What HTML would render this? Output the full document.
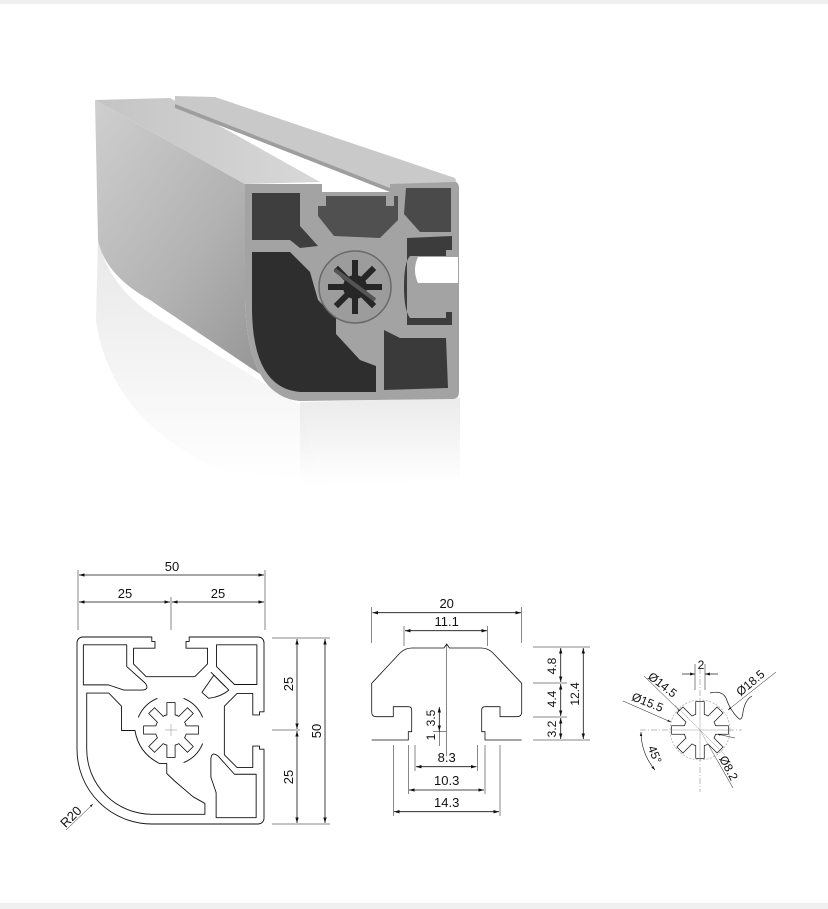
<!DOCTYPE html>
<html><head><meta charset="utf-8"><style>
html,body{margin:0;padding:0;background:#fff;}
body{width:828px;height:909px;overflow:hidden;position:relative;}
svg{position:absolute;left:0;top:0;}
text{font-family:"Liberation Sans",Arial,sans-serif;fill:#111;}
</style></head><body>
<svg width="828" height="909" viewBox="0 0 828 909">
<defs>
<linearGradient id="side" x1="0" y1="0" x2="1" y2="1">
<stop offset="0" stop-color="#cfcfcf"/><stop offset="0.5" stop-color="#b2b2b2"/><stop offset="1" stop-color="#8a8a8a"/></linearGradient>
<linearGradient id="topf" x1="0" y1="0" x2="1" y2="0">
<stop offset="0" stop-color="#c4c4c4"/><stop offset="1" stop-color="#d8d8d8"/></linearGradient>
<linearGradient id="refl" x1="0" y1="0" x2="0" y2="1">
<stop offset="0" stop-color="#e2e2e2"/><stop offset="1" stop-color="#ffffff"/></linearGradient>
<marker id="ar" viewBox="0 0 10 10" refX="10" refY="5" markerWidth="7" markerHeight="7" orient="auto-start-reverse"><path d="M0,2 L10,5 L0,8 Z" fill="#111"/></marker>
</defs>
<rect x="0" y="0" width="828" height="4" fill="#f0f0f0"/>
<rect x="0" y="903" width="828" height="6" fill="#f0f0f0"/>

<!-- 3D render -->
<path d="M98,240 Q110,290 160,320 L300,405 L320,480 L220,470 Q110,420 96,320 Z" fill="url(#refl)" opacity="0.8"/>
<path d="M300,402 L460,398 L460,480 L300,485 Z" fill="url(#refl)" opacity="0.7"/>
<path d="M95,100 L245,184 L245,300 Q247,396 300,401 L150,300 Q105,275 98,240 Z" fill="url(#side)"/>
<path d="M95,100 L170,98 L320,182 L245,184 Z" fill="url(#topf)"/>
<path d="M175,96 L215,97 L455,178 L458,186 L390,190 L175,105 Z" fill="#c9c9c9"/>
<path d="M175,104 L390,188 L390,192 L175,108 Z" fill="#9e9e9e"/>
<path d="M245,184 L322,184 L322,192 L390,192 L390,184 L454,182 Q459,182 459,188 L459,392 Q459,399 452,399 L300,401 Q247,396 245,300 Z" fill="#a3a3a3"/>
<!-- cavities -->
<path d="M252,193 L300,193 L300,226 L318,246 L300,248 L290,240 L252,240 Z" fill="#3e3e3e"/>
<path d="M312,196 L326,196 L326,206 L318,206 L318,216 L334,236 L380,238 L398,220 L398,196 L394,196 L394,206 L386,206 L386,196 Z" fill="#505050"/>
<path d="M406,188 L451,188 L451,232 L420,232 L404,214 Z" fill="#4a4a4a"/>
<path d="M407,238 L452,236 L452,250 L446,250 L446,256 L410,256 Q404,262 404,287 Q404,310 410,318 L446,318 L446,312 L452,312 L452,325 L407,325 Z" fill="#3c3c3c"/>
<path d="M418,257 L458,257 L458,283 L418,283 Q412,270 418,257 Z" fill="#ffffff"/>
<path d="M252,252 L290,252 L310,272 L318,300 L336,318 L336,334 L360,360 L376,366 L376,392 L300,392 Q253,388 252,310 Z" fill="#2e2e2e"/>
<path d="M384,330 L400,338 L446,338 L448,388 L384,390 Z" fill="#3a3a3a"/>
<circle cx="355" cy="287" r="36" fill="#9c9c9c"/>
<circle cx="355" cy="287" r="36" fill="none" stroke="#6a6a6a" stroke-width="1.5"/>
<g transform="translate(355,287)" fill="#262626">
<circle r="12"/>
<rect x="-3" y="-27" width="6" height="54"/>
<rect x="-3" y="-27" width="6" height="54" transform="rotate(45)"/>
<rect x="-3" y="-27" width="6" height="54" transform="rotate(90)"/>
<rect x="-3" y="-27" width="6" height="54" transform="rotate(135)"/>
</g>
<path d="M335,270 L375,300" stroke="#555" stroke-width="4"/>

<!-- Drawing 1 -->
<g stroke="#111" fill="none" stroke-width="0.8">
<line x1="78" y1="570" x2="78" y2="630" stroke-width="0.5"/>
<line x1="265" y1="570" x2="265" y2="630" stroke-width="0.5"/>
<line x1="171" y1="597" x2="171" y2="630" stroke-width="0.5"/>
<line x1="79" y1="575" x2="264" y2="575" marker-start="url(#ar)" marker-end="url(#ar)"/>
<line x1="79" y1="602" x2="170" y2="602" marker-start="url(#ar)" marker-end="url(#ar)"/>
<line x1="172" y1="602" x2="264" y2="602" marker-start="url(#ar)" marker-end="url(#ar)"/>
<line x1="272" y1="638" x2="330" y2="638" stroke-width="0.5"/>
<line x1="272" y1="730" x2="300" y2="730" stroke-width="0.5"/>
<line x1="272" y1="824" x2="330" y2="824" stroke-width="0.5"/>
<line x1="297" y1="639" x2="297" y2="729" marker-start="url(#ar)" marker-end="url(#ar)"/>
<line x1="297" y1="731" x2="297" y2="823" marker-start="url(#ar)" marker-end="url(#ar)"/>
<line x1="325" y1="639" x2="325" y2="823" marker-start="url(#ar)" marker-end="url(#ar)"/>
<line x1="66" y1="830" x2="93" y2="804" stroke-width="0.5" marker-end="url(#ar)"/>
</g>
<text x="172" y="571" font-size="13" text-anchor="middle">50</text>
<text x="125" y="598" font-size="13" text-anchor="middle">25</text>
<text x="218" y="598" font-size="13" text-anchor="middle">25</text>
<text transform="translate(293,684) rotate(-90)" font-size="13" text-anchor="middle">25</text>
<text transform="translate(293,777) rotate(-90)" font-size="13" text-anchor="middle">25</text>
<text transform="translate(321,731) rotate(-90)" font-size="13" text-anchor="middle">50</text>
<text transform="translate(74,820) rotate(-45)" font-size="13" text-anchor="middle">R20</text>

<g transform="translate(77,637) scale(3.74)" fill="none" stroke="#111" stroke-width="0.24" stroke-linejoin="round">
<path d="M0,1.5 A1.5,1.5 0 0 1 1.5,0 L20,0 L20,1.2 L20.85,1.2 L20.85,3 L15.1,3 L15.1,7.2 L18.5,10.6 L31.5,10.6 L34.9,7.2 L34.9,3 L29.15,3 L29.15,1.2 L30,1.2 L30,0 L48.5,0 A1.5,1.5 0 0 1 50,1.5 L50,20 L48.8,20 L48.8,20.85 L47,20.85 L47,15.1 L42.8,15.1 L39.4,18.5 L39.4,31.5 L42.8,34.9 L47,34.9 L47,29.15 L48.8,29.15 L48.8,30 L50,30 L50,48.5 A1.5,1.5 0 0 1 48.5,50 L20,50 A20,20 0 0 1 0,30 Z"/>
<path d="M1.7,2.1 L13.3,2.1 L13.3,7.9 L18.2,12.3 Q19.5,14 17.5,14.2 L12.5,14.2 L8.4,12.8 L1.7,12.8 Z"/>
<path d="M47.9,48.3 L47.9,36.7 L42.1,36.7 L37.7,31.8 Q36,30.5 35.8,32.5 L35.8,37.5 L37.2,41.6 L37.2,48.3 Z"/>
<path d="M37.3,2.1 L48.1,2.1 L48.1,12.7 L42.1,12.7 L37.3,7.9 Z"/>
<path d="M36.6,10.2 L40.6,14.2 Q38.5,16 35.2,16.4 L33.4,14.8 Z"/>
<path d="M39.8,13.4 L35.8,9.4"/>
<path d="M2.6,15 L8.5,15 L11.9,18.5 L11.9,25 L15.5,25 Q16.5,31 22,33.8 L24,33.8 L24,36.5 L26.1,38.5 L31,42.7 L34.2,44.5 L34.2,47.4 L20,47.4 A17.4,17.4 0 0 1 2.6,30 Z"/>
<path d="M16.4,21.5 A9.3,9.3 0 0 1 21.5,16.4"/>
<path d="M28.5,16.4 A9.3,9.3 0 0 1 33.6,21.5"/>
<path d="M33.6,28.5 A9.3,9.3 0 0 1 28.5,33.6"/>
</g>
<g transform="translate(171,730)">
<g fill="#fff" stroke="#111" stroke-width="1.6">
<circle r="15.3"/>
<rect x="-3.7" y="-27" width="7.4" height="54"/>
<rect x="-3.7" y="-27" width="7.4" height="54" transform="rotate(45)"/>
<rect x="-3.7" y="-27" width="7.4" height="54" transform="rotate(90)"/>
<rect x="-3.7" y="-27" width="7.4" height="54" transform="rotate(135)"/>
</g>
<g fill="#fff">
<circle r="15.3"/>
<rect x="-3.7" y="-27" width="7.4" height="54"/>
<rect x="-3.7" y="-27" width="7.4" height="54" transform="rotate(45)"/>
<rect x="-3.7" y="-27" width="7.4" height="54" transform="rotate(90)"/>
<rect x="-3.7" y="-27" width="7.4" height="54" transform="rotate(135)"/>
</g>
<path d="M-6,0 H6 M0,-6 V6" stroke="#888" stroke-width="0.5"/>
</g>

<!-- Drawing 2 -->
<g stroke="#111" fill="none" stroke-width="0.8">
<path d="M371.7,740 L408.3,740 L408.3,731.7 L411.7,731.7 L411.7,710 Q411.7,706.7 408,706.7 L393.3,706.7 L393.3,716.7 L376,716.7 Q371.7,716.7 371.7,712 L371.7,683.3 L400,653 Q405,648 412,648 L444,648 L446.7,644 L449.4,648 L481,648 Q488,648 493,653 L521.7,683.3 L521.7,712 Q521.7,716.7 517,716.7 L500,716.7 L500,706.7 L485.4,706.7 Q481.7,706.7 481.7,710 L481.7,731.7 L485,731.7 L485,740 L521.7,740"/>
<g stroke-width="0.5">
<line x1="371.7" y1="607" x2="371.7" y2="643"/><line x1="521.7" y1="607" x2="521.7" y2="643"/>
<line x1="404" y1="626" x2="404" y2="646"/><line x1="487.7" y1="626" x2="487.7" y2="646"/>
<line x1="446.7" y1="645" x2="446.7" y2="756"/>
<line x1="533" y1="647" x2="590" y2="647"/><line x1="533" y1="683" x2="567" y2="683"/>
<line x1="533" y1="717" x2="567" y2="717"/><line x1="533" y1="740" x2="590" y2="740"/>
<line x1="393.3" y1="745" x2="393.3" y2="816"/><line x1="500" y1="745" x2="500" y2="816"/>
<line x1="408.3" y1="745" x2="408.3" y2="794"/><line x1="485" y1="745" x2="485" y2="794"/>
<line x1="415" y1="745" x2="415" y2="771"/><line x1="477.3" y1="745" x2="477.3" y2="771"/>
</g>
<line x1="372.5" y1="612.7" x2="521" y2="612.7" marker-start="url(#ar)" marker-end="url(#ar)"/>
<line x1="405" y1="630.7" x2="487" y2="630.7" marker-start="url(#ar)" marker-end="url(#ar)"/>
<line x1="560.7" y1="648" x2="560.7" y2="682" marker-start="url(#ar)" marker-end="url(#ar)"/>
<line x1="560.7" y1="684" x2="560.7" y2="716" marker-start="url(#ar)" marker-end="url(#ar)"/>
<line x1="560.7" y1="718" x2="560.7" y2="739" marker-start="url(#ar)" marker-end="url(#ar)"/>
<line x1="583.3" y1="648" x2="583.3" y2="739" marker-start="url(#ar)" marker-end="url(#ar)"/>
<line x1="416" y1="766.7" x2="476.5" y2="766.7" marker-start="url(#ar)" marker-end="url(#ar)"/>
<line x1="409" y1="790" x2="484" y2="790" marker-start="url(#ar)" marker-end="url(#ar)"/>
<line x1="394" y1="811.7" x2="499" y2="811.7" marker-start="url(#ar)" marker-end="url(#ar)"/>
<line x1="439.3" y1="707" x2="439.3" y2="731" marker-start="url(#ar)" marker-end="url(#ar)"/>
<line x1="439.3" y1="731" x2="439.3" y2="746" stroke-width="0.5"/>
<line x1="433" y1="731.7" x2="446" y2="731.7" stroke-width="0.5"/>
</g>
<text x="446.7" y="608" font-size="13" text-anchor="middle">20</text>
<text x="446.7" y="626" font-size="13" text-anchor="middle">11.1</text>
<text x="446.7" y="762" font-size="13" text-anchor="middle">8.3</text>
<text x="446.7" y="785" font-size="13" text-anchor="middle">10.3</text>
<text x="446.7" y="807" font-size="13" text-anchor="middle">14.3</text>
<text transform="translate(556,666) rotate(-90)" font-size="12" text-anchor="middle">4.8</text>
<text transform="translate(556,699) rotate(-90)" font-size="12" text-anchor="middle">4.4</text>
<text transform="translate(556,729) rotate(-90)" font-size="12" text-anchor="middle">3.2</text>
<text transform="translate(579,694) rotate(-90)" font-size="12" text-anchor="middle">12.4</text>
<text transform="translate(435,718) rotate(-90)" font-size="12" text-anchor="middle">3.5</text>
<text transform="translate(435,737) rotate(-90)" font-size="12" text-anchor="middle">1</text>

<!-- Drawing 3 -->
<g stroke="#111" fill="none" stroke-width="0.7">
<circle cx="700" cy="730" r="30" stroke="#999" stroke-dasharray="2,1.5" stroke-width="0.6"/>
<path d="M640,730 H742 M700,668 V792" stroke="#777" stroke-width="0.5" stroke-dasharray="6,2,1,2"/>
<path d="M710,693 Q722,690 726,698 Q730,710 738,718 Q742,722 743,712 Q745,700 752,696"/>
<line x1="695" y1="664" x2="695" y2="690" stroke-width="0.5"/><line x1="705" y1="664" x2="705" y2="690" stroke-width="0.5"/>
<line x1="682" y1="674" x2="695" y2="674" marker-end="url(#ar)"/><line x1="718" y1="674" x2="705" y2="674" marker-end="url(#ar)"/>
<line x1="644" y1="676" x2="681" y2="712" stroke-width="0.5" marker-end="url(#ar)"/>
<line x1="623" y1="701" x2="671" y2="722" stroke-width="0.5" marker-end="url(#ar)"/>
<line x1="776" y1="672" x2="728" y2="710" stroke-width="0.5" marker-end="url(#ar)"/>
<line x1="700" y1="730" x2="733" y2="788" stroke-width="0.5"/>
<line x1="735" y1="738" x2="717" y2="734" stroke-width="0.5" marker-end="url(#ar)"/>
<path d="M641,732 A60,60 0 0 0 655,770" marker-start="url(#ar)" marker-end="url(#ar)" stroke-width="0.6"/>
</g>
<g transform="translate(700,730)">
<g fill="#fff" stroke="#111" stroke-width="1.4">
<circle r="15.8"/>
<rect x="-3.9" y="-28" width="7.8" height="56"/>
<rect x="-3.9" y="-28" width="7.8" height="56" transform="rotate(45)"/>
<rect x="-3.9" y="-28" width="7.8" height="56" transform="rotate(90)"/>
<rect x="-3.9" y="-28" width="7.8" height="56" transform="rotate(135)"/>
</g>
<g fill="#fff">
<circle r="15.8"/>
<rect x="-3.9" y="-28" width="7.8" height="56"/>
<rect x="-3.9" y="-28" width="7.8" height="56" transform="rotate(45)"/>
<rect x="-3.9" y="-28" width="7.8" height="56" transform="rotate(90)"/>
<rect x="-3.9" y="-28" width="7.8" height="56" transform="rotate(135)"/>
</g>
<path d="M-30,0 H30 M0,-30 V30 M-25,-25 L25,25 M0,0 L18,32" stroke="#999" stroke-width="0.5"/>
</g>
<text x="701" y="669" font-size="12" text-anchor="middle">2</text>
<text transform="translate(660,688) rotate(38)" font-size="12" text-anchor="middle">Ø14.5</text>
<text transform="translate(646,706) rotate(22)" font-size="12" text-anchor="middle">Ø15.5</text>
<text transform="translate(753,686) rotate(-40)" font-size="12" text-anchor="middle">Ø18.5</text>
<text transform="translate(651,756) rotate(68)" font-size="12" text-anchor="middle">45°</text>
<text transform="translate(725,770) rotate(62)" font-size="12" text-anchor="middle">Ø8.2</text>
</svg>
</body></html>
